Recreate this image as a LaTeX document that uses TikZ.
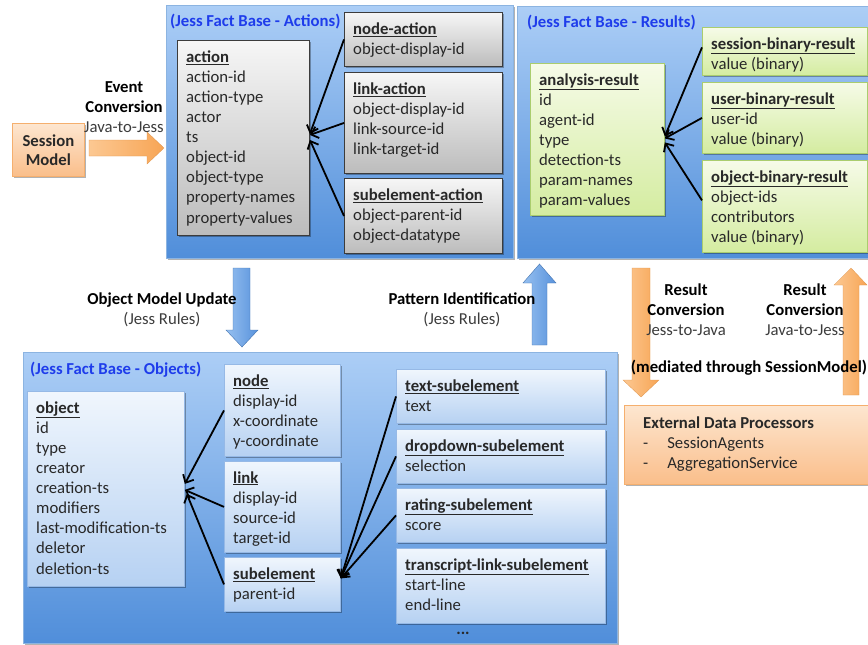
\documentclass[tikz,border=0pt]{standalone}
\usepackage{fontspec}
\setmainfont{Carlito}
\usetikzlibrary{arrows.meta,shadows}
\definecolor{conttop}{RGB}{172,206,246}
\definecolor{contbot}{RGB}{80,142,218}
\definecolor{contborder}{RGB}{140,180,225}
\definecolor{greytop}{RGB}{246,246,246}
\definecolor{greybot}{RGB}{188,188,188}
\definecolor{greyborder}{RGB}{60,60,60}
\definecolor{greentop}{RGB}{246,251,232}
\definecolor{greenbot}{RGB}{212,236,160}
\definecolor{greenborder}{RGB}{170,205,110}
\definecolor{lbtop}{RGB}{240,246,253}
\definecolor{lbbot}{RGB}{182,209,242}
\definecolor{lbborder}{RGB}{150,185,230}
\definecolor{ortop}{RGB}{253,230,208}
\definecolor{orbot}{RGB}{250,190,138}
\definecolor{orborder}{RGB}{245,175,110}
\definecolor{itemcol}{RGB}{40,40,40}
\definecolor{labgrey}{RGB}{60,60,60}
\definecolor{titleblue}{RGB}{30,60,235}
\definecolor{barrowL}{RGB}{150,192,240}
\definecolor{barrowR}{RGB}{88,146,220}
\definecolor{oarrowL}{RGB}{252,200,146}
\definecolor{oarrowR}{RGB}{247,165,85}
\newcommand{\boxtitle}[1]{\underline{\textbf{#1}}}
\newcommand{\entitybox}[7]{%
  \node[#1, minimum width=#5, minimum height=#6, anchor=north west] (#2) at (#3,#4) {};
  \node[itemtext, anchor=north west] (#2-t) at ([xshift=9pt,yshift=-8pt]#2.north west) {#7};
}
\tikzset{
  shadowed/.style={drop shadow={shadow xshift=1.5pt, shadow yshift=-1.5pt, opacity=0.3, fill=black}},
  container/.style={draw=contborder, line width=0.8pt, top color=conttop, bottom color=contbot, inner sep=0pt, shadowed},
  greybox/.style={draw=greyborder, line width=0.9pt, top color=greytop, bottom color=greybot, inner sep=0pt, shadowed},
  greenbox/.style={draw=greenborder, line width=0.8pt, top color=greentop, bottom color=greenbot, inner sep=0pt, shadowed},
  lbbox/.style={draw=lbborder, line width=0.8pt, top color=lbtop, bottom color=lbbot, inner sep=0pt, shadowed},
  orbox/.style={draw=orborder, line width=0.8pt, top color=ortop, bottom color=orbot, inner sep=0pt, shadowed},
  itemtext/.style={inner sep=0pt, align=left, font=\fontsize{16.7}{20.1}\selectfont, text=itemcol},
  conttitle/.style={inner sep=0pt, font=\fontsize{16.7}{20}\selectfont\bfseries, text=titleblue},
  labeltext/.style={inner sep=0pt, align=center, font=\fontsize{16.7}{20}\selectfont, text=black},
  conn/.style={draw=black, line width=1.8pt, -{Straight Barb[length=6.5pt,width=12pt]}},
  bluearrow/.style={left color=barrowL, right color=barrowR, draw=barrowR!80!black, line width=0.4pt},
  orarrow/.style={left color=oarrowL, right color=oarrowR, draw=oarrowR!90!black, line width=0.3pt},
}
\begin{document}
\begin{tikzpicture}[x=1pt,y=-1pt]
\useasboundingbox (0,0) rectangle (868,645);

% ---------- Actions ----------
\node[container, minimum width=347, minimum height=253, anchor=north west] (actions) at (166,5) {};
\node[conttitle, anchor=west] (actionstitle) at (170,22) {(Jess Fact Base - Actions)};
\entitybox{greybox}{action}{177}{40}{132}{195}{\strut\boxtitle{action}\\action-id\\action-type\\actor\\ts\\object-id\\object-type\\property-names\\property-values}
\entitybox{greybox}{nodeaction}{344}{12}{158}{54}{\strut\boxtitle{node-action}\\object-display-id}
\entitybox{greybox}{linkaction}{344}{72}{158}{101}{\strut\boxtitle{link-action}\\object-display-id\\link-source-id\\link-target-id}
\entitybox{greybox}{subaction}{344}{178}{158}{75}{\strut\boxtitle{subelement-action}\\object-parent-id\\object-datatype}
\draw[conn] (nodeaction.west) -- ([yshift=4pt]action.east);
\draw[conn] (linkaction.west) -- ([yshift=3pt]action.east);
\draw[conn] (subaction.west) -- ([yshift=-2pt]action.east);

% ---------- Results ----------
\node[container, minimum width=353, minimum height=252, anchor=north west] (results) at (517,6) {};
\node[conttitle, anchor=west] (resultstitle) at (527,23) {(Jess Fact Base - Results)};
\entitybox{greenbox}{analysis}{530}{63}{134}{152}{\strut\boxtitle{analysis-result}\\id\\agent-id\\type\\detection-ts\\param-names\\param-values}
\entitybox{greenbox}{sessionbin}{702}{27}{165}{48}{\strut\boxtitle{session-binary-result}\\value (binary)}
\entitybox{greenbox}{userbin}{702}{82}{165}{71}{\strut\boxtitle{user-binary-result}\\user-id\\value (binary)}
\entitybox{greenbox}{objbin}{702}{160}{165}{92}{\strut\boxtitle{object-binary-result}\\object-ids\\contributors\\value (binary)}
\draw[conn] ([yshift=4pt]sessionbin.west) -- ([yshift=3pt]analysis.east);
\draw[conn] (userbin.west) -- ([yshift=1pt]analysis.east);
\draw[conn] ([yshift=6pt]objbin.west) -- ([yshift=-3pt]analysis.east);

% ---------- Session model ----------
\node[orbox, minimum width=72, minimum height=53, anchor=north west, align=center, font=\fontsize{16.7}{19}\selectfont\bfseries, text=itemcol] (session) at (12,123) {Session\\Model};
\path[orarrow] (89,140) -- (147,140) -- (147,132) -- (164,148) -- (147,164) -- (147,156) -- (89,156) -- cycle;
\node[labeltext] (evconv) at (124,107) {\textbf{Event}\\\textbf{Conversion}\\\textcolor{labgrey}{Java-to-Jess}};

% ---------- Middle arrows and labels ----------
\path[bluearrow] (233,268) -- (250,268) -- (250,330) -- (258,330) -- (242,347) -- (226,330) -- (233,330) -- cycle;
\node[labeltext] (omu) at (162,310) {\textbf{Object Model Update}\\\textcolor{labgrey}{(Jess Rules)}};
\path[bluearrow] (532,345) -- (547,345) -- (547,283) -- (556,283) -- (539.5,264) -- (523,283) -- (532,283) -- cycle;
\node[labeltext] (patid) at (462,310) {\textbf{Pattern Identification}\\\textcolor{labgrey}{(Jess Rules)}};

\path[orarrow] (632,268) -- (650,268) -- (650,380) -- (659,380) -- (641,397) -- (623,380) -- (632,380) -- cycle;
\path[orarrow] (843,395) -- (859,395) -- (859,285) -- (867,285) -- (851,268) -- (834,285) -- (843,285) -- cycle;
\node[labeltext] (rc1) at (686,310) {\textbf{Result}\\\textbf{Conversion}\\\textcolor{labgrey}{Jess-to-Java}};
\node[labeltext] (rc2) at (805,310) {\textbf{Result}\\\textbf{Conversion}\\\textcolor{labgrey}{Java-to-Jess}};
\node[labeltext] (mediated) at (749,368) {\textbf{(mediated through SessionModel)}};

% ---------- External data processors ----------
\node[orbox, minimum width=250, minimum height=79, anchor=north west] (external) at (624,405) {};
\node[itemtext, anchor=north west] (external-t) at ([xshift=19pt,yshift=-9pt]external.north west) {\strut\textbf{External Data Processors}\\-\hspace{19pt}SessionAgents\\-\hspace{19pt}AggregationService};

% ---------- Objects ----------
\node[container, minimum width=594, minimum height=291, anchor=north west] (objects) at (23,352) {};
\node[conttitle, anchor=west] (objectstitle) at (30,370) {(Jess Fact Base - Objects)};
\entitybox{lbbox}{object}{27}{391}{157}{195}{\strut\boxtitle{object}\\id\\type\\creator\\creation-ts\\modifiers\\last-modification-ts\\deletor\\deletion-ts}
\entitybox{lbbox}{nodebox}{224}{364}{116}{92}{\strut\boxtitle{node}\\display-id\\x-coordinate\\y-coordinate}
\entitybox{lbbox}{linkbox}{224}{461}{116}{91}{\strut\boxtitle{link}\\display-id\\source-id\\target-id}
\entitybox{lbbox}{subbox}{224}{557}{116}{54}{\strut\boxtitle{subelement}\\parent-id}
\entitybox{lbbox}{textsub}{396}{369}{209}{54}{\strut\boxtitle{text-subelement}\\text}
\entitybox{lbbox}{dropsub}{396}{429}{209}{54}{\strut\boxtitle{dropdown-subelement}\\selection}
\entitybox{lbbox}{ratingsub}{396}{488}{209}{54}{\strut\boxtitle{rating-subelement}\\score}
\entitybox{lbbox}{transsub}{396}{548}{209}{75}{\strut\boxtitle{transcript-link-subelement}\\start-line\\end-line}
\node[itemtext, font=\fontsize{16.7}{20}\selectfont\bfseries] (dots) at (463,633) {...};
\draw[conn] (nodebox.west) -- ([yshift=5pt]object.east);
\draw[conn] (linkbox.west) -- ([yshift=-1pt]object.east);
\draw[conn] (subbox.west) -- ([xshift=2pt,yshift=-5pt]object.east);
\draw[conn] (textsub.west) -- ([yshift=6pt]subbox.east);
\draw[conn] (dropsub.west) -- ([yshift=6pt]subbox.east);
\draw[conn] (ratingsub.west) -- ([yshift=6pt]subbox.east);
\end{tikzpicture}
\end{document}
